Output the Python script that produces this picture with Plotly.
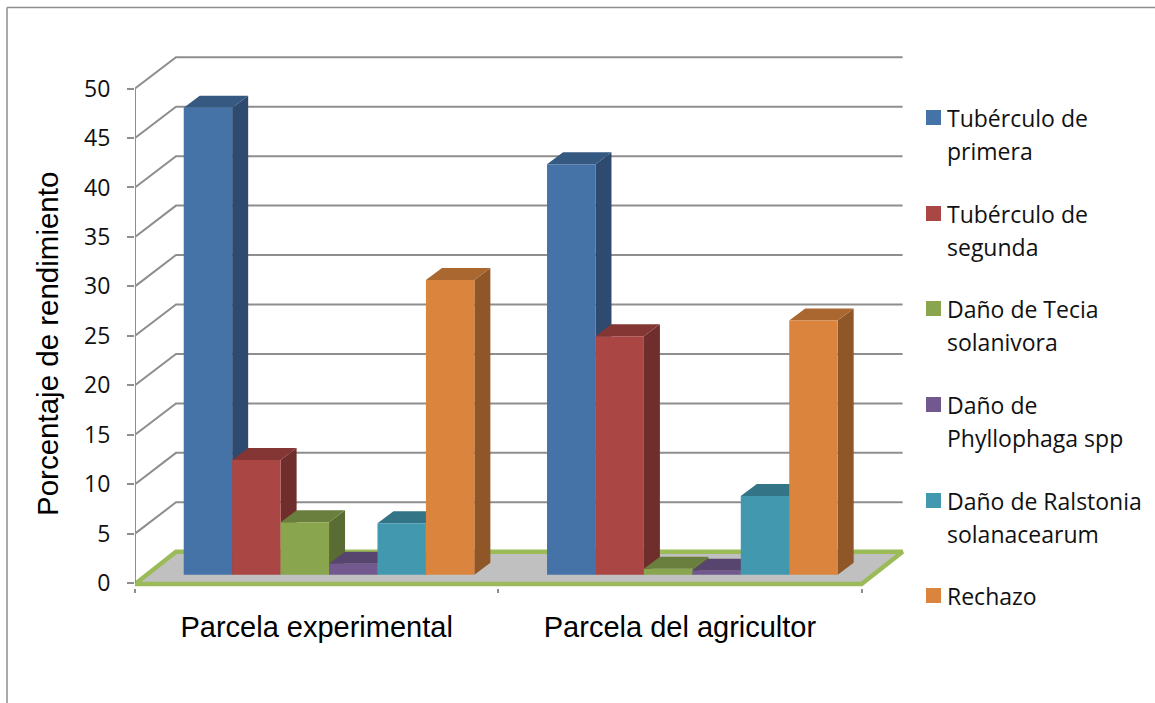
import plotly.graph_objects as go

# Yield breakdown per plot, in percent
CATEGORIES = ["Parcela experimental", "Parcela del agricultor"]
SERIES = ["Tubérculo de primera", "Tubérculo de segunda", "Daño de Tecia solanivora",
          "Daño de Phyllophaga spp", "Daño de Ralstonia solanacearum", "Rechazo"]
PRIMERA = [47.2, 41.5]
SEGUNDA = [11.6, 24.1]
TECIA = [5.3, 0.6]
PHYLLOPHAGA = [1.1, 0.4]
RALSTONIA = [5.2, 7.95]
RECHAZO = [29.8, 25.7]
VALUES = [PRIMERA, SEGUNDA, TECIA, PHYLLOPHAGA, RALSTONIA, RECHAZO]

LEGEND_LINES = [["Tubérculo de", "primera"], ["Tubérculo de", "segunda"],
                ["Daño de Tecia", "solanivora"], ["Daño de", "Phyllophaga spp"],
                ["Daño de Ralstonia", "solanacearum"], ["Rechazo"]]
Y_TICKS = list(range(0, 51, 5))

FRONT = ["#4572A7", "#AA4643", "#89A54E", "#71588F", "#4198AF", "#DB843D"]
SIDE = ["#2E4A6E", "#6F2D2B", "#5A6C33", "#4A3A5E", "#2B6373", "#8F5628"]
TOP = ["#365981", "#843634", "#6A7F3D", "#57446F", "#337587", "#AA6730"]
GRID = "#8E8E8E"
GREEN = "#9BBB59"
FLOOR = "#C0C0C0"
TEXT_FONT = "Open Sans"
ARIAL = "Liberation Sans"

# Plot box in pixels, and the pixel size of one axis unit
W, H = 1155, 703
L, R, T, B = 135, 245, 49, 115
Y_MIN, Y_MAX = -0.5, 54
PX_PER_CAT = 363.3
PX_PER_VAL = (H - T - B) / (Y_MAX - Y_MIN)
X_MAX = (W - L - R) / PX_PER_CAT

# Oblique projection: wall depth, bar depth, and where the bars' front plane sits
WALL_DX, WALL_DY = 41 / PX_PER_CAT, 31.3 / PX_PER_VAL
BAR_DX, BAR_DY = 16 / PX_PER_CAT, 12 / PX_PER_VAL
FRONT_DX, FRONT_DY = 12.4 / PX_PER_CAT, 8.4 / PX_PER_VAL
BAR_GAP = 0.2
BAR_W = (1 - BAR_GAP) / len(SERIES)
CAT_POS = [0.5, 1.5]
FRONT_MAX = 2.0


def page_x(px):
    return (px - L) / (W - L - R)


def page_y(py):
    return (H - B - py) / (H - T - B)


fig = go.Figure()

# Floor of the chart
fig.add_trace(go.Scatter(
    x=[0, WALL_DX, FRONT_MAX + WALL_DX, FRONT_MAX, 0],
    y=[-0.1, WALL_DY, WALL_DY, -0.1, -0.1],
    mode="lines", fill="toself", fillcolor=FLOOR,
    line=dict(color=GREEN, width=4.5), cliponaxis=False, hoverinfo="skip"))

# Side and back wall gridlines
gx, gy = [], []
for v in Y_TICKS[1:]:
    gx += [0, WALL_DX, FRONT_MAX + WALL_DX, None]
    gy += [v, v + WALL_DY, v + WALL_DY, None]
fig.add_trace(go.Scatter(x=gx, y=gy, mode="lines", line=dict(color=GRID, width=2),
                         cliponaxis=False, hoverinfo="skip"))

# Vertical axis line
fig.add_trace(go.Scatter(x=[0, 0], y=[0, 50], mode="lines", line=dict(color=GRID, width=2),
                         cliponaxis=False, hoverinfo="skip"))

# Side and top faces of each bar, series by series from left to right
for i, vals in enumerate(VALUES):
    sx, sy, tx, ty = [], [], [], []
    for c, v in zip(CAT_POS, vals):
        x0 = c + FRONT_DX + (i - len(SERIES) / 2) * BAR_W
        x1 = x0 + BAR_W
        y0, y1 = FRONT_DY, FRONT_DY + v
        sx += [x1, x1 + BAR_DX, x1 + BAR_DX, x1, x1, None]
        sy += [y0, y0 + BAR_DY, y1 + BAR_DY, y1, y0, None]
        tx += [x0, x1, x1 + BAR_DX, x0 + BAR_DX, x0, None]
        ty += [y1, y1, y1 + BAR_DY, y1 + BAR_DY, y1, None]
    for fx, fy, col in ((sx, sy, SIDE[i]), (tx, ty, TOP[i])):
        fig.add_trace(go.Scatter(x=fx, y=fy, mode="none", fill="toself", fillcolor=col,
                                 hoverinfo="skip"))

# Front faces, on an overlaid subplot so they cover the neighbouring faces
for i, vals in enumerate(VALUES):
    fig.add_trace(go.Bar(
        x=[c + FRONT_DX for c in CAT_POS], y=vals, base=FRONT_DY, name=SERIES[i],
        marker=dict(color=FRONT[i], line=dict(width=0)),
        xaxis="x2", yaxis="y2"))

# Legend swatches and labels
SWATCH_Y = [117.5, 213.5, 308.5, 404.5, 500.5, 595.5]
shapes = [
    dict(type="line", xref="paper", yref="paper", x0=page_x(7), x1=page_x(W), y0=page_y(7.5), y1=page_y(7.5),
         line=dict(color=GRID, width=1.5)),
    dict(type="line", xref="paper", yref="paper", x0=page_x(7), x1=page_x(7), y0=page_y(7.5), y1=page_y(H),
         line=dict(color=GRID, width=1.5)),
]
annotations = []
for col, cy, lines in zip(FRONT, SWATCH_Y, LEGEND_LINES):
    shapes.append(dict(type="rect", xref="paper", yref="paper", x0=page_x(926), x1=page_x(941),
                       y0=page_y(cy - 7.5), y1=page_y(cy + 7.5), fillcolor=col, line=dict(width=0)))
    for n, line in enumerate(lines):
        annotations.append(dict(
            text=line, xref="paper", yref="paper", x=page_x(946), y=page_y(cy + n * 33),
            xanchor="left", yanchor="middle", showarrow=False, borderpad=0,
            font=dict(family=TEXT_FONT, size=23, color="#111111")))

annotations.append(dict(
    text="Porcentaje de rendimiento", textangle=-90, xref="paper", yref="paper",
    x=page_x(47), y=page_y(344), xanchor="center", yanchor="middle", showarrow=False,
    font=dict(family=ARIAL, size=29.5, color="#000000")))

fig.update_layout(
    width=W, height=H, margin=dict(l=L, r=R, t=T, b=B), autosize=False,
    paper_bgcolor="white", plot_bgcolor="white", showlegend=False,
    barmode="group", bargap=BAR_GAP, bargroupgap=0,
    shapes=shapes, annotations=annotations,
    xaxis=dict(range=[0, X_MAX], tickvals=CAT_POS, ticktext=CATEGORIES, ticks="",
               showgrid=False, zeroline=False, showline=False, ticklabelstandoff=19,
               tickfont=dict(family=ARIAL, size=29, color="#000000"),
               minor=dict(tickvals=[0, 1, 2], ticks="outside", ticklen=4, tickcolor=GRID,
                          tickwidth=2, showgrid=False)),
    yaxis=dict(range=[Y_MIN, Y_MAX], tickvals=Y_TICKS, ticks="outside", ticklen=7, tickcolor=GRID,
               tickwidth=2, showgrid=False, zeroline=False, showline=False, ticklabelstandoff=12,
               tickfont=dict(family=TEXT_FONT, size=23, color="#111111")),
    xaxis2=dict(range=[0, X_MAX], overlaying="x", visible=False),
    yaxis2=dict(range=[Y_MIN, Y_MAX], overlaying="y", visible=False),
)

fig.write_html("out.html")
